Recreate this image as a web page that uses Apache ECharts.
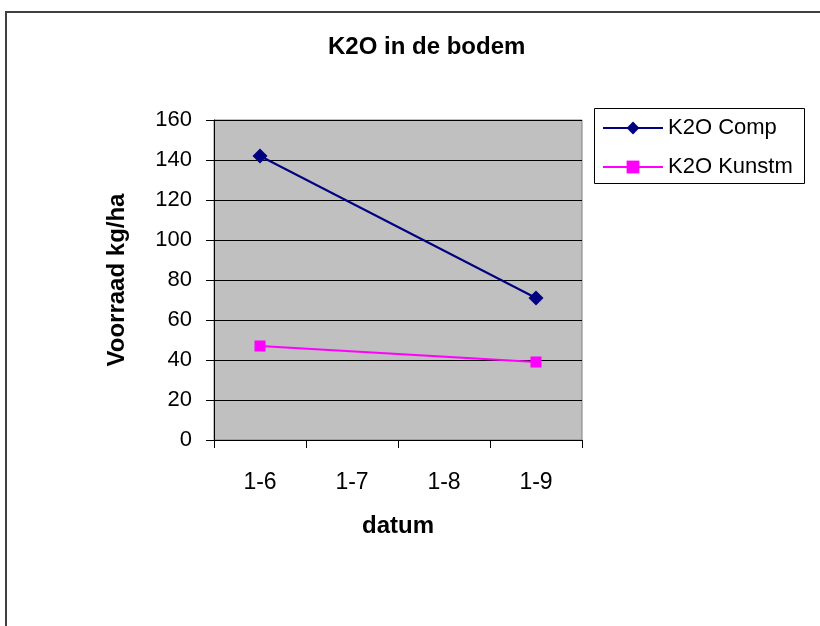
<!DOCTYPE html>
<html>
<head>
<meta charset="utf-8">
<title>K2O in de bodem</title>
<script src="https://cdn.jsdelivr.net/npm/echarts@6/dist/echarts.min.js"></script>
<style>
    html, body { margin: 0; padding: 0; background: #fff; }
    #chart { width: 820px; height: 626px; }
</style>
</head>
<body>
<div id="chart"></div>
<script>
    // data
    const categories = ['1-6', '1-7', '1-8', '1-9'];
    const k2oComp = [142, null, null, 71];
    const k2oKunstm = [47, null, null, 39];
    const yMin = 0, yMax = 160, yStep = 20;

    const font = 'Arial, "Liberation Sans", sans-serif';

    let chart = echarts.init(document.getElementById('chart'), null, { renderer: 'canvas' });
    let option = {
        animation: false,
        backgroundColor: '#fff',
        title: {
            text: 'K2O in de bodem',
            left: 328,
            top: 35,
            padding: 0,
            textStyle: { fontFamily: font, fontSize: 24, fontWeight: 'bold', color: '#000' }
        },
        legend: {
            orient: 'vertical',
            left: 602,
            top: 117,
            padding: 0,
            itemWidth: 60,
            itemHeight: 16,
            itemGap: 17,
            textStyle: { fontFamily: font, fontSize: 22, color: '#000' },
            data: ['K2O Comp', 'K2O Kunstm']
        },
        grid: {
            left: 214,
            top: 120,
            width: 368,
            height: 320,
            show: true,
            backgroundColor: '#C0C0C0',
            borderColor: '#808080',
            borderWidth: 1,
            containLabel: false
        },
        xAxis: {
            type: 'category',
            data: categories,
            boundaryGap: true,
            name: 'datum',
            nameLocation: 'middle',
            nameGap: 74,
            nameTextStyle: { fontFamily: font, fontSize: 24, fontWeight: 'bold', color: '#000' },
            axisLine: { show: true, lineStyle: { color: '#000', width: 1 } },
            axisTick: { show: true, inside: false, length: 8, alignWithLabel: false, lineStyle: { color: '#000' } },
            axisLabel: { margin: 31, fontFamily: font, fontSize: 23, color: '#000' },
            splitLine: { show: false }
        },
        yAxis: {
            type: 'value',
            min: yMin,
            max: yMax,
            interval: yStep,
            name: 'Voorraad kg/ha',
            nameLocation: 'middle',
            nameRotate: 90,
            nameGap: 85,
            nameTextStyle: { fontFamily: font, fontSize: 24, fontWeight: 'bold', color: '#000' },
            axisLine: { show: true, lineStyle: { color: '#000', width: 1 } },
            axisTick: { show: true, inside: false, length: 8, lineStyle: { color: '#000' } },
            axisLabel: { margin: 22, fontFamily: font, fontSize: 22, color: '#000' },
            splitLine: { show: true, lineStyle: { color: '#000', width: 1 } }
        },
        series: [
            {
                name: 'K2O Comp',
                type: 'line',
                data: k2oComp,
                connectNulls: true,
                symbol: 'diamond',
                symbolSize: 15,
                color: '#000080',
                lineStyle: { color: '#000080', width: 2 },
                itemStyle: { color: '#000080' }
            },
            {
                name: 'K2O Kunstm',
                type: 'line',
                data: k2oKunstm,
                connectNulls: true,
                symbol: 'rect',
                symbolSize: 11,
                color: '#FF00FF',
                lineStyle: { color: '#FF00FF', width: 2 },
                itemStyle: { color: '#FF00FF' }
            }
        ],
        graphic: [
            {
                // outer chart frame, runs off the right and bottom edge
                type: 'rect',
                silent: true,
                shape: { x: 6, y: 12, width: 900, height: 700 },
                style: { fill: 'none', stroke: '#404040', lineWidth: 2 }
            },
            {
                // legend box
                type: 'rect',
                silent: true,
                shape: { x: 594.5, y: 108.5, width: 210, height: 75 },
                style: { fill: 'none', stroke: '#000', lineWidth: 1 }
            }
        ]
    };
    chart.setOption(option);
</script>
</body>
</html>
